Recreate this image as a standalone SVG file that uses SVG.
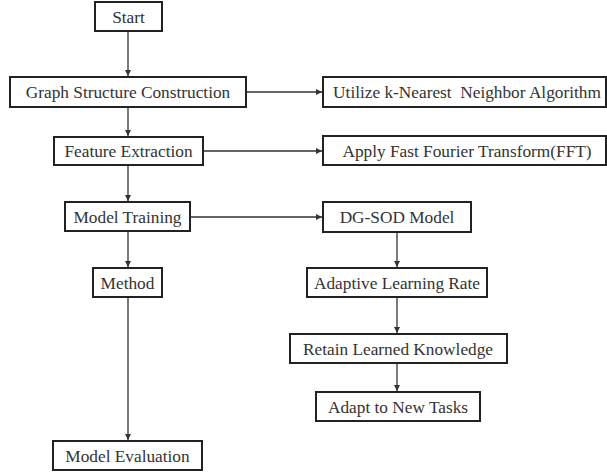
<svg xmlns="http://www.w3.org/2000/svg" width="607" height="472" viewBox="0 0 607 472">
<style>
.box{fill:#fff;stroke:#222;stroke-width:2}
.lbl{font-family:'Liberation Serif','DejaVu Serif',serif;font-size:17.3px;fill:#333;text-anchor:middle;dominant-baseline:central}
.edge{stroke:#333;stroke-width:1.3;fill:none;marker-end:url(#ah)}
</style>
<defs>
<marker id="ah" markerWidth="6" markerHeight="6" refX="6" refY="3" orient="auto" markerUnits="userSpaceOnUse">
<path d="M0,0 L6,3 L0,6 z" fill="#333"/>
</marker>
</defs>
<rect width="607" height="472" fill="#fff"/>
<g id="connectors">
<line class="edge" x1="128" y1="31" x2="128" y2="76"/>
<line class="edge" x1="128" y1="107" x2="128" y2="136"/>
<line class="edge" x1="128" y1="165" x2="128" y2="201"/>
<line class="edge" x1="128" y1="231" x2="128" y2="267"/>
<line class="edge" x1="128" y1="297" x2="128" y2="440"/>
<line class="edge" x1="246" y1="92" x2="322" y2="92"/>
<line class="edge" x1="203" y1="151" x2="322" y2="151"/>
<line class="edge" x1="190" y1="217" x2="322" y2="217"/>
<line class="edge" x1="397" y1="232" x2="397" y2="267"/>
<line class="edge" x1="397" y1="297" x2="397" y2="333"/>
<line class="edge" x1="397" y1="363" x2="397" y2="391"/>
</g>
<g id="start"><rect class="box" x="95" y="2" width="67" height="29"/><text class="lbl" x="128.5" y="17">Start</text></g>
<g id="graph"><rect class="box" x="10" y="77" width="236" height="30"/><text class="lbl" x="128" y="92">Graph Structure Construction</text></g>
<g id="feature"><rect class="box" x="54" y="137" width="149" height="28"/><text class="lbl" x="128.5" y="151">Feature Extraction</text></g>
<g id="training"><rect class="box" x="65" y="202" width="125" height="29"/><text class="lbl" x="127.5" y="217">Model Training</text></g>
<g id="method"><rect class="box" x="93" y="268" width="69" height="29"/><text class="lbl" x="127.5" y="283">Method</text></g>
<g id="evaluation"><rect class="box" x="53" y="441" width="149" height="29"/><text class="lbl" x="127.5" y="456">Model Evaluation</text></g>
<g id="knn"><rect class="box" x="323" y="77" width="283" height="30"/><text class="lbl" x="467" y="92" xml:space="preserve">Utilize k-Nearest  Neighbor Algorithm</text></g>
<g id="fft"><rect class="box" x="323" y="136" width="283" height="29"/><text class="lbl" x="467" y="151">Apply Fast Fourier Transform(FFT)</text></g>
<g id="dgsod"><rect class="box" x="323" y="202" width="148" height="30"/><text class="lbl" x="397" y="217">DG-SOD Model</text></g>
<g id="adaptive"><rect class="box" x="307" y="268" width="180" height="29"/><text class="lbl" x="397" y="283">Adaptive Learning Rate</text></g>
<g id="retain"><rect class="box" x="290" y="334" width="217" height="29"/><text class="lbl" x="398" y="349">Retain Learned Knowledge</text></g>
<g id="adapt"><rect class="box" x="316" y="392" width="164" height="29"/><text class="lbl" x="398" y="407">Adapt to New Tasks</text></g>
</svg>
